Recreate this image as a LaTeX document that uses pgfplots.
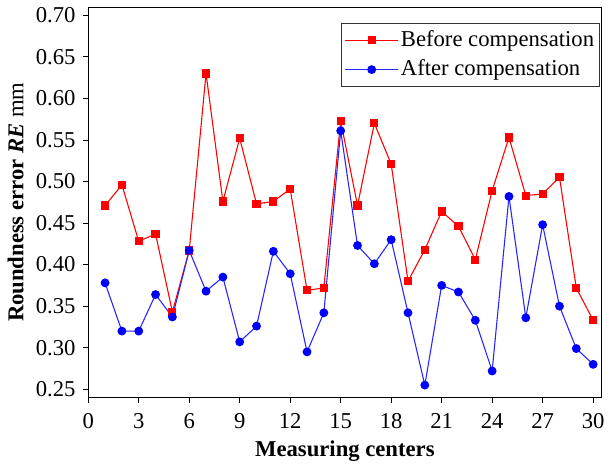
\documentclass[border=0pt]{standalone}
\usepackage{fontspec}
\setmainfont{Liberation Serif}
\usepackage{pgfplots}
\pgfplotsset{compat=1.18}
\begin{document}
\fontsize{23}{26}\selectfont
\begin{tikzpicture}[x=1bp,y=1bp]
\begin{axis}[
  scale only axis,
  width=519bp, height=395bp,
  xmin=0, xmax=30.5, ymin=0.24, ymax=0.71,
  xtick={0,3,...,30},
  ytick={0.25,0.30,0.35,0.40,0.45,0.50,0.55,0.60,0.65,0.70},
  yticklabel style={/pgf/number format/fixed,/pgf/number format/fixed zerofill,/pgf/number format/precision=2},
  /pgf/number format/assume math mode=true,
  tick align=outside, tick pos=left,
  major tick length=5bp,
  tick style={black, line width=0.8pt},
  axis line style={line width=0.8pt},
  ticklabel style={font=\fontsize{23}{26}\selectfont},
  xticklabel style={yshift=-3bp},
  xlabel={\bfseries Measuring centers},
  ylabel={\bfseries Roundness error \textit{RE} \mdseries mm},
  label style={font=\fontsize{23}{26}\selectfont},
  xlabel style={yshift=3bp},
  ylabel style={yshift=-3bp},
  legend style={at={(0.996,0.958)}, anchor=north east, draw=black!80, line width=0.9pt,
    font=\fontsize{23}{24}\selectfont, inner xsep=3bp, inner ysep=5bp, row sep=6bp},
  legend cell align=left,
  legend image code/.code={\draw[#1] (0bp,0bp) -- (54bp,0bp); \draw[#1, mark repeat=1] plot coordinates {(27bp,0bp)};},
]
\addplot[color=red, line width=1.1pt, mark=square*, mark size=3.6bp, mark options={solid, fill=red}] coordinates {
(1,0.471)(2,0.496)(3,0.428)(4,0.437)(5,0.343)(6,0.417)(7,0.630)(8,0.476)(9,0.552)(10,0.473)
(11,0.476)(12,0.491)(13,0.369)(14,0.372)(15,0.573)(16,0.471)(17,0.570)(18,0.521)(19,0.380)(20,0.418)
(21,0.464)(22,0.446)(23,0.406)(24,0.489)(25,0.553)(26,0.483)(27,0.485)(28,0.505)(29,0.372)(30,0.333)};
\addlegendentry{Before compensation}
\addplot[color=blue!85!white, line width=1.1pt, mark=*, mark size=3.9bp, mark options={solid, fill=blue, draw=blue}] coordinates {
(1,0.378)(2,0.320)(3,0.320)(4,0.364)(5,0.337)(6,0.417)(7,0.368)(8,0.385)(9,0.307)(10,0.326)
(11,0.416)(12,0.389)(13,0.295)(14,0.342)(15,0.561)(16,0.423)(17,0.401)(18,0.430)(19,0.342)(20,0.255)
(21,0.375)(22,0.367)(23,0.333)(24,0.272)(25,0.482)(26,0.336)(27,0.448)(28,0.350)(29,0.299)(30,0.280)};
\addlegendentry{After compensation}
\end{axis}
\end{tikzpicture}
\end{document}
